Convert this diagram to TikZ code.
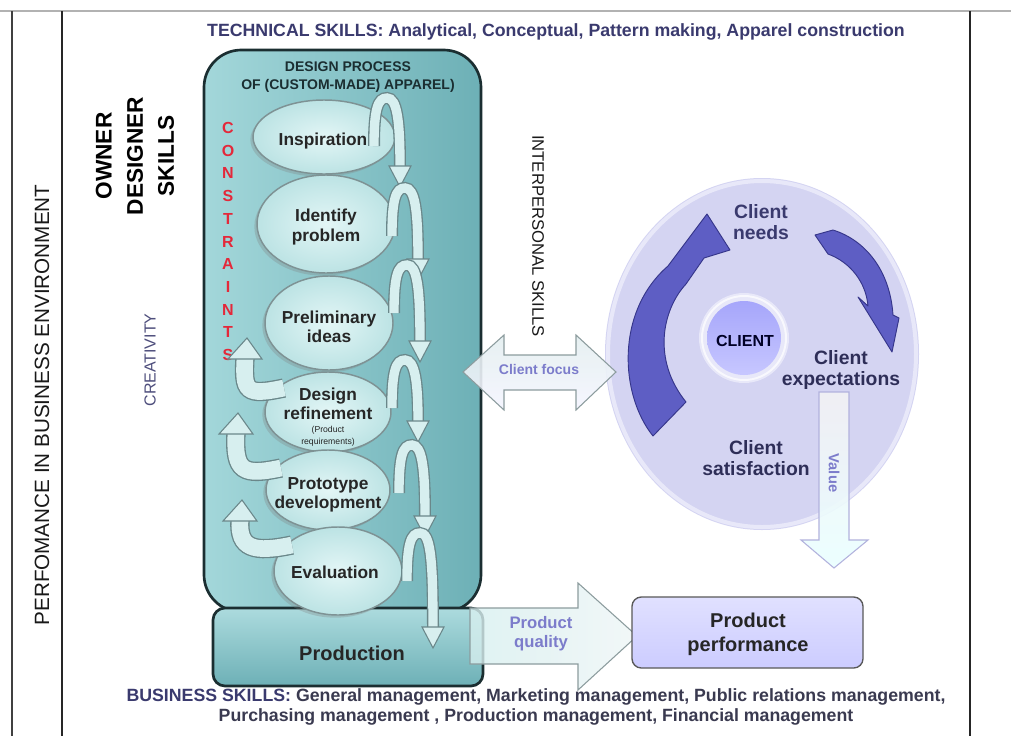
\documentclass[tikz,border=0pt]{standalone}
\usepackage{fontspec}
\setmainfont{Liberation Sans}
\usetikzlibrary{shapes.geometric,shadows}

\definecolor{teallight}{HTML}{A3D7DA}
\definecolor{tealdark}{HTML}{6DB0B6}
\definecolor{boxedge}{HTML}{1B2E31}
\definecolor{stagein}{HTML}{E3F6F6}
\definecolor{stageout}{HTML}{BCE3E4}
\definecolor{stageedge}{HTML}{7E9294}
\definecolor{stageink}{HTML}{262626}
\definecolor{archedge}{HTML}{6A878A}
\definecolor{archfill}{HTML}{D7EFEF}
\definecolor{constrred}{HTML}{E4283A}
\definecolor{navy}{HTML}{3A3A6E}
\definecolor{skillink}{HTML}{3A3A50}
\definecolor{lavender}{HTML}{D4D4F2}
\definecolor{lavrim}{HTML}{E8E8F9}
\definecolor{swirl}{HTML}{5E5EC4}
\definecolor{swirledge}{HTML}{36368A}
\definecolor{flowtext}{HTML}{7C7CCB}
\definecolor{blockedge}{HTML}{8C9C9E}
\definecolor{blockfill}{HTML}{E4EFF0}

% arch-shaped arrow of the design sequence: top at (#1,#2), tip at height #3
\newcommand\chainarrow[3]{%
  \draw[archedge, line width=9pt] (#1-11,#2+48) .. controls (#1-11,#2+10) and (#1-7,#2) .. (#1+2,#2) .. controls (#1+12,#2) and (#1+15,#2+22) .. (#1+15,#3-20);
  \draw[archfill, line width=7pt] (#1-11,#2+48) .. controls (#1-11,#2+10) and (#1-7,#2) .. (#1+2,#2) .. controls (#1+12,#2) and (#1+15,#2+22) .. (#1+15,#3-20);
  \filldraw[draw=archedge, fill=archfill, line width=0.8pt] (#1+4,#3-21) -- (#1+26,#3-21) -- (#1+15,#3) -- cycle;
}
% U-turn feedback arrow: flat end at (#1,#2), tip at (#3,#4)
\newcommand\feedbackarrow[4]{%
  \draw[archedge, line width=14.5pt] (#1,#2) .. controls (#1-38,#2+8) and (#3-4,#2+4) .. (#3-2,#4+20);
  \draw[archfill, line width=12.5pt] (#1,#2) .. controls (#1-38,#2+8) and (#3-4,#2+4) .. (#3-2,#4+20);
  \filldraw[draw=archedge, fill=archfill, line width=0.8pt] (#3-19,#4+21) -- (#3+15,#4+21) -- (#3,#4) -- cycle;
}

\begin{document}
\begin{tikzpicture}[x=0.75pt,y=-0.75pt,
  lbl/.style={inner sep=0pt, align=center},
  stage/.style={ellipse, inner sep=0pt, draw=stageedge, line width=1.1pt, inner color=stagein, outer color=stageout,
    drop shadow={shadow xshift=-2pt, shadow yshift=-2pt, opacity=.3}},
  stagetxt/.style={lbl, text=stageink, font=\bfseries\fontsize{13}{14.5}\selectfont},
  clientlbl/.style={lbl, font=\bfseries\fontsize{14.5}{16}\selectfont},
  constr/.style={lbl, text=constrred, font=\bfseries\fontsize{12}{13}\selectfont},
  skills/.style={lbl, font=\bfseries\fontsize{13.3}{15}\selectfont},
  flowlbl/.style={lbl, text=flowtext},
  blockarrow/.style={draw=blockedge, line width=0.8pt},
  swirlarrow/.style={draw=swirledge, fill=swirl, line width=0.7pt, line join=round},
]
\useasboundingbox (0,0) rectangle (1011,736);
\fill[white] (0,0) rectangle (1011,736);

% frame lines
\draw[color=black!30, line width=1.5pt] (0,11) -- (1011,11);
\draw[color=black!75, line width=2pt] (12,11) -- (12,736);
\draw[color=black!85, line width=1.6pt] (62,11) -- (62,736);
\draw[color=black!85, line width=1.9pt] (970,11) -- (970,736);

% side titles
\node[lbl, rotate=90, font=\fontsize{15.5}{18}\selectfont, text=black!90] (perf) at (42,405) {PERFOMANCE IN BUSINESS ENVIRONMENT};
\node[lbl, rotate=90, font=\bfseries\fontsize{17}{23.3}\selectfont] (owner) at (135,156) {OWNER\\DESIGNER\\SKILLS};
\node[lbl, rotate=90, font=\fontsize{12}{14}\selectfont, text=navy!90] (creat) at (150,360) {CREATIVITY};

% skill lines
\node[skills, text=navy] (tech) at (556,32) {TECHNICAL SKILLS: Analytical, Conceptual, Pattern making, Apparel construction};
\node[skills, text=skillink] (bus) at (536,707) {{\color{navy}BUSINESS SKILLS:} General management, Marketing management, Public relations management,\\Purchasing management , Production management, Financial management};
\node[lbl, rotate=-90, font=\fontsize{12.5}{14}\selectfont, text=black!90] (inter) at (538,236) {INTERPERSONAL SKILLS};

% design process container
\draw[draw=boxedge, line width=2pt, rounded corners=28pt, left color=teallight, right color=tealdark] (204,50) rectangle (481,612);
\draw[draw=boxedge, line width=2pt, rounded corners=9pt, top color=teallight!90!white, bottom color=tealdark] (213,608) rectangle (483,686);
\node[lbl, font=\bfseries\fontsize{15}{17}\selectfont, text=stageink] (prod) at (352,653) {Production};
\node[lbl, font=\bfseries\fontsize{10.5}{13}\selectfont, text=boxedge] (dp) at (348,77) {DESIGN PROCESS\\OF (CUSTOM-MADE) APPAREL)};

% stages
\node[stage, minimum width=106.5pt, minimum height=55.5pt] (insp) at (324,137) {};
\node[stage, minimum width=103.5pt, minimum height=73.5pt] (ident) at (326,224) {};
\node[stage, minimum width=96pt, minimum height=70.5pt] (prelim) at (329,323) {};
\node[stage, minimum width=94.5pt, minimum height=60pt] (refine) at (328,412) {};
\node[stage, minimum width=93pt, minimum height=60pt] (proto) at (328,490) {};
\node[stage, minimum width=96pt, minimum height=66pt] (evalu) at (338,571) {};

\node[stagetxt] (insp-t) at (323,141) {Inspiration};
\node[stagetxt] (ident-t) at (326,227) {Identify\\problem};
\node[stagetxt] (prelim-t) at (329,327) {Preliminary\\ideas};
\node[stagetxt] (refine-t) at (328,404) {Design\\refinement};
\node[lbl, font=\fontsize{6.5}{9}\selectfont, text=stageink] (refine-s) at (328,436) {(Product\\requirements)};
\node[stagetxt] (proto-t) at (328,495) {Prototype\\development};
\node[stagetxt] (evalu-t) at (335,572) {Evaluation};

% constraints
\foreach \ch [count=\i from 0] in {C,O,N,S,T,R,A,I,N,T,S}
  \node[constr] (con\i) at (228,128+22.7*\i) {\ch};

% sequence arrows down the right of the stages
\chainarrow{385}{98}{187}
\chainarrow{403}{188}{280}
\chainarrow{405}{265}{362}
\chainarrow{403}{360}{442}
\chainarrow{410}{445}{537}
\chainarrow{418}{533}{648}

% feedback arrows on the left
\feedbackarrow{292}{545}{242}{500}
\feedbackarrow{281}{468}{238}{413}
\feedbackarrow{284}{388}{247}{338}

% client circle
\fill[lavender] (762,354) ellipse [x radius=157, y radius=176];
\draw[lavrim, line width=3pt] (762,354) ellipse [x radius=154, y radius=173];
\fill[lavrim] (744,338) circle [radius=45];
\draw[white, line width=1.5pt, opacity=.7] (744,338) circle [radius=42];
\shade[top color=black!5!blue!35!white, bottom color=blue!22!white] (744,338) circle [radius=37];
\node[lbl, font=\bfseries\fontsize{12}{14}\selectfont, text=black!85!blue] (client) at (745,341) {CLIENT};

\node[clientlbl, text=navy] (needs) at (761,222) {Client\\needs};
\node[clientlbl, text=navy!80!black] (expect) at (841,370) {Client\\expectations};
\node[clientlbl, text=navy!80!black] (satis) at (756,458) {Client\\satisfaction};

% cycle arrows
\path[swirlarrow] (653,436) .. controls (620,395) and (615,312) .. (668,266) -- (707,214) -- (730,250) -- (704,258) -- (686,284) .. controls (662,310) and (652,360) .. (686,402) -- cycle;
\path[swirlarrow] (815,235) -- (833,230) .. controls (865,240) and (890,270) .. (893,315) -- (899,318) -- (892,352) -- (858,297) -- (868,306) .. controls (866,282) and (850,262) .. (828,254) -- cycle;

% client focus
\path[blockarrow, top color=blockfill, bottom color=white!96!blue, fill opacity=.9] (463,372) -- (504,335) -- (504,355) -- (576,355) -- (576,335) -- (616,372) -- (576,410) -- (576,390) -- (504,390) -- (504,410) -- cycle;
\node[flowlbl, font=\bfseries\fontsize{10.5}{12}\selectfont] (focus) at (539,369) {Client focus};

% value
\path[blockarrow, draw=black!45!blue!30!white, top color=blue!20!black!5!white, bottom color=cyan!8!white, fill opacity=.9] (819,392) -- (849,392) -- (849,540) -- (868,540) -- (834,568) -- (801,540) -- (819,540) -- cycle;
\node[flowlbl, rotate=-90, font=\bfseries\fontsize{11}{12}\selectfont] (value) at (834,473) {Value};

% product quality
\path[blockarrow, left color=archfill, right color=blockfill!60!white, fill opacity=.8] (470,608) -- (578,608) -- (578,583) -- (637,636) -- (578,690) -- (578,664) -- (470,664) -- cycle;
\node[flowlbl, font=\bfseries\fontsize{12.5}{14.3}\selectfont] (quality) at (541,634) {Product\\quality};

% product performance
\draw[draw=black!65, line width=1pt, rounded corners=7pt, top color=blue!12!white, bottom color=blue!20!white] (632,597) rectangle (863,668);
\node[lbl, font=\bfseries\fontsize{15}{18}\selectfont, text=black!85] (perfbox) at (748,634) {Product\\performance};
\end{tikzpicture}
\end{document}
